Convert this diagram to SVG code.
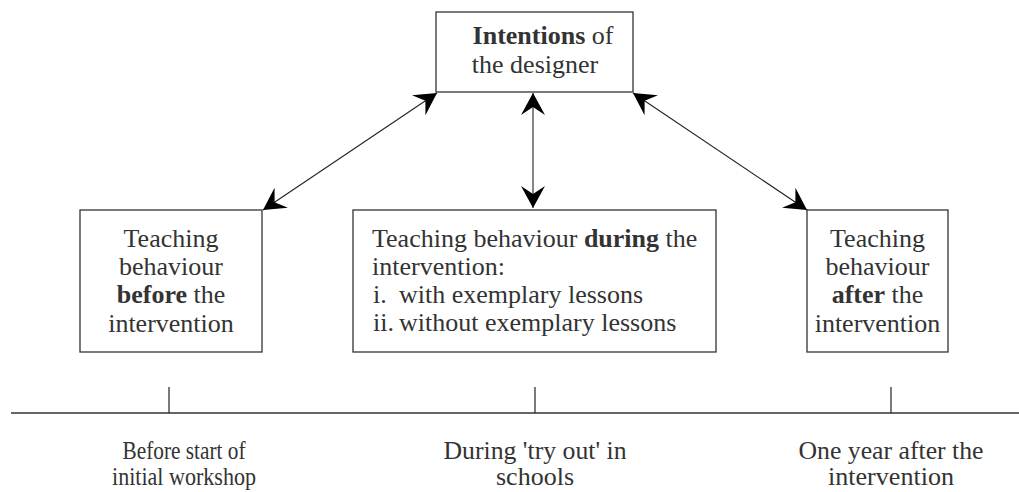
<svg xmlns="http://www.w3.org/2000/svg" width="1019" height="492" viewBox="0 0 1019 492">
<style>
.box{fill:#fff;stroke:#333;stroke-width:1.3}
.t{font-family:"Liberation Serif","Times New Roman",serif;font-size:26px;fill:#333}
.c{text-anchor:middle}
.b{font-weight:bold}
.lb{font-family:"Liberation Serif","Times New Roman",serif;font-size:25px;fill:#333;text-anchor:middle}
.conn{stroke:#222;stroke-width:1.1;fill:none}
.tl{stroke:#333;stroke-width:1.3;fill:none}
</style>
<defs>
<marker id="ah" markerUnits="userSpaceOnUse" markerWidth="26" markerHeight="28" viewBox="-23 -14 24 28" refX="0" refY="0" orient="auto-start-reverse">
<path d="M0,0 L-22,-12 L-14,0 L-22,12 Z" fill="#000"/>
</marker>
</defs>
<g id="intentions">
<rect class="box" x="436" y="12" width="197" height="80"/>
<text class="t c" x="543" y="44" font-size="27"><tspan class="b">Intentions</tspan> of</text>
<text class="t c" x="535" y="73">the designer</text>
</g>
<g id="before">
<rect class="box" x="80" y="210" width="182" height="142"/>
<text class="t c" x="171" y="247">Teaching</text>
<text class="t c" x="171" y="275">behaviour</text>
<text class="t c" x="171" y="303"><tspan class="b">before</tspan> the</text>
<text class="t c" x="171" y="332">intervention</text>
</g>
<g id="during">
<rect class="box" x="353" y="210" width="363" height="142"/>
<text class="t" x="372" y="247">Teaching behaviour <tspan class="b">during</tspan> the</text>
<text class="t" x="372" y="275">intervention:</text>
<text class="t" x="373" y="303">i.</text>
<text class="t" x="399" y="303">with exemplary lessons</text>
<text class="t" x="373" y="331">ii.</text>
<text class="t" x="399" y="331">without exemplary lessons</text>
</g>
<g id="after">
<rect class="box" x="807" y="210" width="141" height="142"/>
<text class="t c" x="877.5" y="247">Teaching</text>
<text class="t c" x="877.5" y="275">behaviour</text>
<text class="t c" x="877.5" y="303"><tspan class="b">after</tspan> the</text>
<text class="t c" x="877.5" y="332">intervention</text>
</g>
<g id="connectors">
<line class="conn" x1="437" y1="93" x2="263" y2="210" marker-start="url(#ah)" marker-end="url(#ah)"/>
<line class="conn" x1="533" y1="93" x2="533" y2="208" marker-start="url(#ah)" marker-end="url(#ah)"/>
<line class="conn" x1="633" y1="93" x2="807" y2="210" marker-start="url(#ah)" marker-end="url(#ah)"/>
</g>
<g id="timeline">
<line class="tl" x1="11" y1="413" x2="1019" y2="413"/>
<line class="tl" x1="169" y1="387" x2="169" y2="413"/>
<line class="tl" x1="535" y1="387" x2="535" y2="413"/>
<line class="tl" x1="891" y1="387" x2="891" y2="413"/>
<text class="lb" x="184" y="459" textLength="123" lengthAdjust="spacingAndGlyphs">Before start of</text>
<text class="lb" x="184" y="485" textLength="144" lengthAdjust="spacingAndGlyphs">initial workshop</text>
<text class="lb" x="535" y="459" textLength="183" lengthAdjust="spacingAndGlyphs">During 'try out' in</text>
<text class="lb" x="535" y="485" textLength="78" lengthAdjust="spacingAndGlyphs">schools</text>
<text class="lb" x="891" y="459" textLength="185" lengthAdjust="spacingAndGlyphs">One year after the</text>
<text class="lb" x="891" y="485" textLength="126" lengthAdjust="spacingAndGlyphs">intervention</text>
</g>
</svg>
